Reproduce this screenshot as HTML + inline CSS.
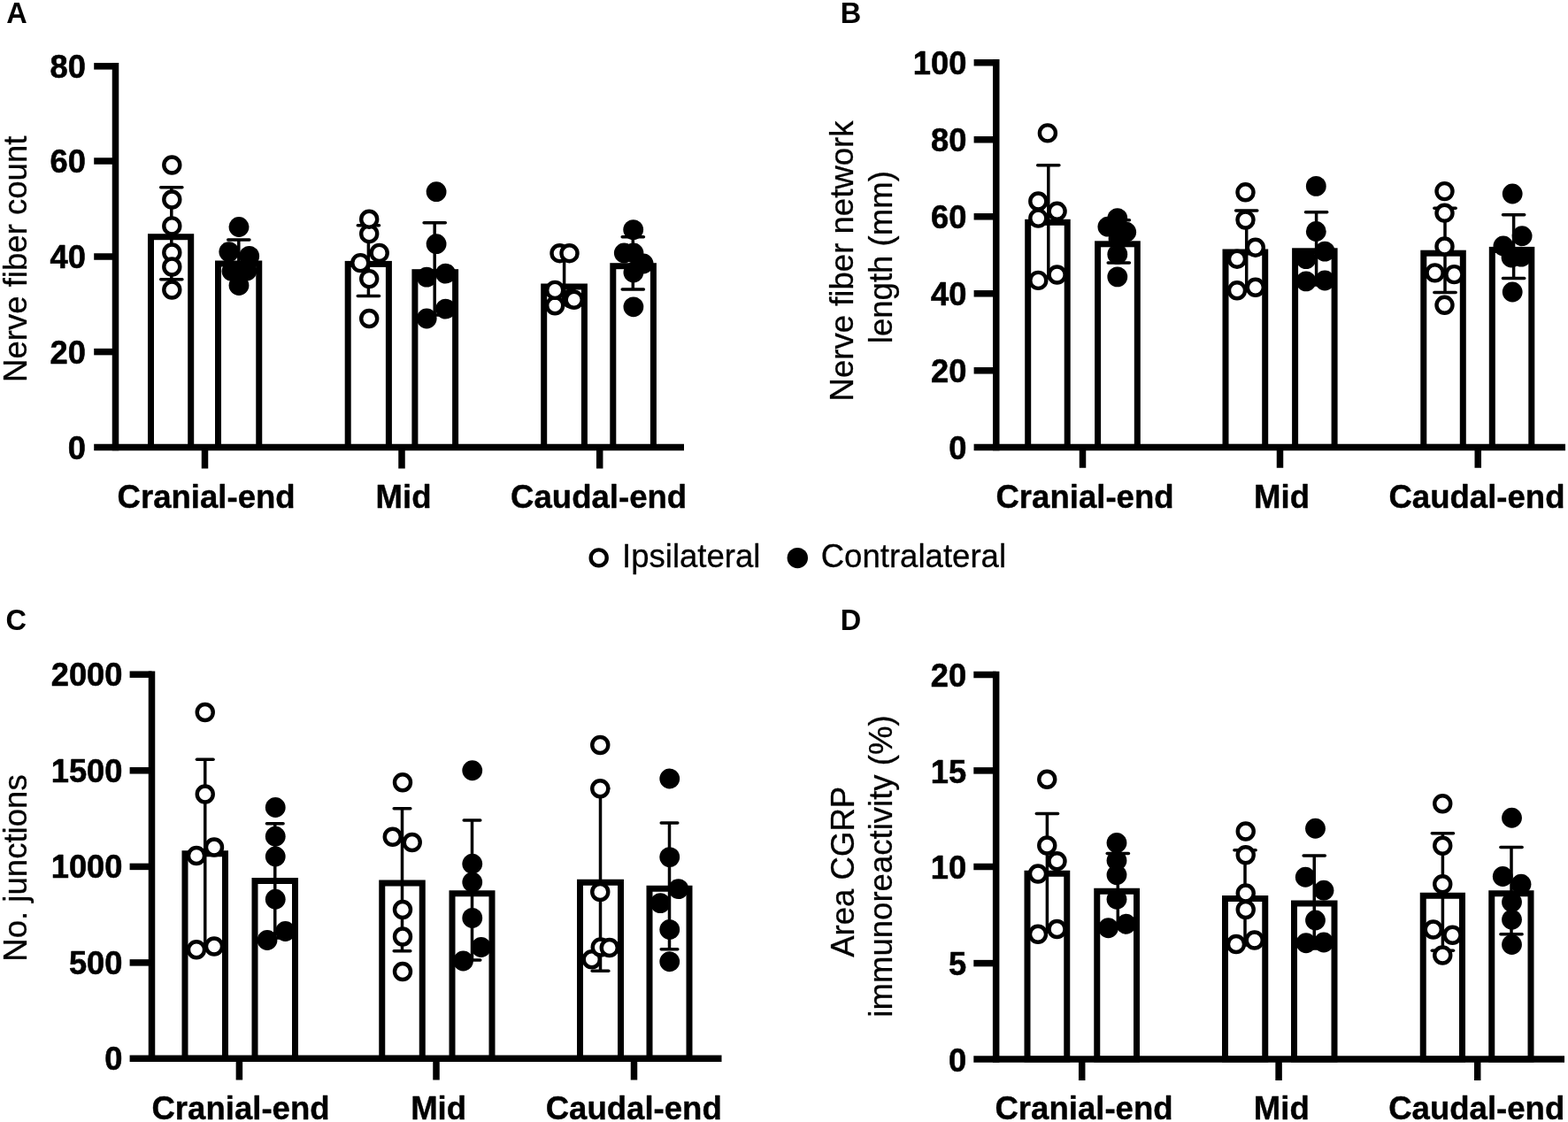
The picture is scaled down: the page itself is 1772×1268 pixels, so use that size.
<!DOCTYPE html>
<html lang="en">
<head>
<meta charset="utf-8">
<title>Figure</title>
<style>
html,body{margin:0;padding:0;background:#fff;}
body{width:1772px;height:1268px;overflow:hidden;}
svg{display:block;}
svg text{font-family:"Liberation Sans",Arial,Helvetica,sans-serif;fill:#000;}
</style>
</head>
<body>
<svg width="1772" height="1268" viewBox="0 0 1772 1268">
<rect x="0" y="0" width="1772" height="1268" fill="#fff"/>
<g>
<rect x="170.5" y="267.7" width="45.2" height="237.8" fill="#fff" stroke="#000" stroke-width="7"/>
<rect x="246.5" y="298" width="46.25" height="207.5" fill="#fff" stroke="#000" stroke-width="7"/>
<rect x="393.2" y="298.4" width="46.2" height="207.1" fill="#fff" stroke="#000" stroke-width="7"/>
<rect x="468.9" y="307.7" width="45.7" height="197.8" fill="#fff" stroke="#000" stroke-width="7"/>
<rect x="614.7" y="324" width="45.7" height="181.5" fill="#fff" stroke="#000" stroke-width="7"/>
<rect x="692.8" y="300.7" width="45.6" height="204.8" fill="#fff" stroke="#000" stroke-width="7"/>
<line x1="193.8" y1="211.7" x2="193.8" y2="315.8" stroke="#000" stroke-width="3.5" stroke-linecap="butt"/>
<line x1="181.7" y1="211.7" x2="205.9" y2="211.7" stroke="#000" stroke-width="3.5" stroke-linecap="round"/>
<line x1="181.7" y1="315.8" x2="205.9" y2="315.8" stroke="#000" stroke-width="3.5" stroke-linecap="round"/>
<line x1="269.8" y1="270.9" x2="269.8" y2="318" stroke="#000" stroke-width="3.5" stroke-linecap="butt"/>
<line x1="257.7" y1="270.9" x2="281.9" y2="270.9" stroke="#000" stroke-width="3.5" stroke-linecap="round"/>
<line x1="416.4" y1="254.7" x2="416.4" y2="334.6" stroke="#000" stroke-width="3.5" stroke-linecap="butt"/>
<line x1="404.3" y1="254.7" x2="428.5" y2="254.7" stroke="#000" stroke-width="3.5" stroke-linecap="round"/>
<line x1="404.3" y1="334.6" x2="428.5" y2="334.6" stroke="#000" stroke-width="3.5" stroke-linecap="round"/>
<line x1="491.2" y1="251.7" x2="491.2" y2="356" stroke="#000" stroke-width="3.5" stroke-linecap="butt"/>
<line x1="479.1" y1="251.7" x2="503.3" y2="251.7" stroke="#000" stroke-width="3.5" stroke-linecap="round"/>
<line x1="479.1" y1="356" x2="503.3" y2="356" stroke="#000" stroke-width="3.5" stroke-linecap="round"/>
<line x1="637.6" y1="287" x2="637.6" y2="343" stroke="#000" stroke-width="3.5" stroke-linecap="butt"/>
<line x1="625.5" y1="287" x2="649.7" y2="287" stroke="#000" stroke-width="3.5" stroke-linecap="round"/>
<line x1="625.5" y1="343" x2="649.7" y2="343" stroke="#000" stroke-width="3.5" stroke-linecap="round"/>
<line x1="715.3" y1="267.8" x2="715.3" y2="327" stroke="#000" stroke-width="3.5" stroke-linecap="butt"/>
<line x1="703.2" y1="267.8" x2="727.4" y2="267.8" stroke="#000" stroke-width="3.5" stroke-linecap="round"/>
<line x1="703.2" y1="327" x2="727.4" y2="327" stroke="#000" stroke-width="3.5" stroke-linecap="round"/>
<circle cx="194.3" cy="327.5" r="9" fill="#fff" stroke="#000" stroke-width="4.4"/>
<circle cx="194.3" cy="285.5" r="9" fill="#fff" stroke="#000" stroke-width="4.4"/>
<circle cx="194.3" cy="301.5" r="9" fill="#fff" stroke="#000" stroke-width="4.4"/>
<circle cx="194.3" cy="255.4" r="9" fill="#fff" stroke="#000" stroke-width="4.4"/>
<circle cx="194.3" cy="225.5" r="9" fill="#fff" stroke="#000" stroke-width="4.4"/>
<circle cx="194.3" cy="186.5" r="9" fill="#fff" stroke="#000" stroke-width="4.4"/>
<circle cx="270" cy="322.5" r="11.4" fill="#000"/>
<circle cx="262" cy="306.5" r="11.4" fill="#000"/>
<circle cx="279" cy="306" r="11.4" fill="#000"/>
<circle cx="281.7" cy="289.4" r="11.4" fill="#000"/>
<circle cx="258.8" cy="284.6" r="11.4" fill="#000"/>
<circle cx="270" cy="256.5" r="11.4" fill="#000"/>
<circle cx="417.2" cy="360" r="9" fill="#fff" stroke="#000" stroke-width="4.4"/>
<circle cx="417.2" cy="315.1" r="9" fill="#fff" stroke="#000" stroke-width="4.4"/>
<circle cx="428.7" cy="285.9" r="9" fill="#fff" stroke="#000" stroke-width="4.4"/>
<circle cx="407.3" cy="297.1" r="9" fill="#fff" stroke="#000" stroke-width="4.4"/>
<circle cx="417.2" cy="264.2" r="9" fill="#fff" stroke="#000" stroke-width="4.4"/>
<circle cx="417.2" cy="247.7" r="9" fill="#fff" stroke="#000" stroke-width="4.4"/>
<circle cx="482.2" cy="360" r="11.4" fill="#000"/>
<circle cx="503.6" cy="349.1" r="11.4" fill="#000"/>
<circle cx="482.2" cy="313.1" r="11.4" fill="#000"/>
<circle cx="503.6" cy="309.1" r="11.4" fill="#000"/>
<circle cx="493.1" cy="275.7" r="11.4" fill="#000"/>
<circle cx="493.1" cy="216.7" r="11.4" fill="#000"/>
<circle cx="627.2" cy="345.3" r="9" fill="#fff" stroke="#000" stroke-width="4.4"/>
<circle cx="645.5" cy="337.5" r="9" fill="#fff" stroke="#000" stroke-width="4.4"/>
<circle cx="648.7" cy="338.8" r="9" fill="#fff" stroke="#000" stroke-width="4.4"/>
<circle cx="627.2" cy="327.9" r="9" fill="#fff" stroke="#000" stroke-width="4.4"/>
<circle cx="632.5" cy="286.2" r="9" fill="#fff" stroke="#000" stroke-width="4.4"/>
<circle cx="643.5" cy="286.2" r="9" fill="#fff" stroke="#000" stroke-width="4.4"/>
<circle cx="715.9" cy="346.8" r="11.4" fill="#000"/>
<circle cx="715.9" cy="308" r="11.4" fill="#000"/>
<circle cx="727.1" cy="298" r="11.4" fill="#000"/>
<circle cx="705.3" cy="286" r="11.4" fill="#000"/>
<circle cx="716" cy="286" r="11.4" fill="#000"/>
<circle cx="715.7" cy="259.6" r="11.4" fill="#000"/>
<line x1="130.5" y1="71.1" x2="130.5" y2="509.25" stroke="#000" stroke-width="7.5" stroke-linecap="butt"/>
<line x1="106.2" y1="505.5" x2="773" y2="505.5" stroke="#000" stroke-width="7.5" stroke-linecap="butt"/>
<text transform="translate(96.9 518.8) scale(0.98 1)" text-anchor="end" font-size="37" font-weight="700" stroke="#000" stroke-width="0.6" stroke-linejoin="round">0</text>
<line x1="106.2" y1="397.6" x2="130.5" y2="397.6" stroke="#000" stroke-width="7.5" stroke-linecap="butt"/>
<text transform="translate(96.9 410.9) scale(0.98 1)" text-anchor="end" font-size="37" font-weight="700" stroke="#000" stroke-width="0.6" stroke-linejoin="round">20</text>
<line x1="106.2" y1="290" x2="130.5" y2="290" stroke="#000" stroke-width="7.5" stroke-linecap="butt"/>
<text transform="translate(96.9 303.3) scale(0.98 1)" text-anchor="end" font-size="37" font-weight="700" stroke="#000" stroke-width="0.6" stroke-linejoin="round">40</text>
<line x1="106.2" y1="182" x2="130.5" y2="182" stroke="#000" stroke-width="7.5" stroke-linecap="butt"/>
<text transform="translate(96.9 195.3) scale(0.98 1)" text-anchor="end" font-size="37" font-weight="700" stroke="#000" stroke-width="0.6" stroke-linejoin="round">60</text>
<line x1="106.2" y1="74.85" x2="130.5" y2="74.85" stroke="#000" stroke-width="7.5" stroke-linecap="butt"/>
<text transform="translate(96.9 88.15) scale(0.98 1)" text-anchor="end" font-size="37" font-weight="700" stroke="#000" stroke-width="0.6" stroke-linejoin="round">80</text>
<line x1="231.5" y1="505.5" x2="231.5" y2="529.5" stroke="#000" stroke-width="7.5" stroke-linecap="butt"/>
<line x1="454" y1="505.5" x2="454" y2="529.5" stroke="#000" stroke-width="7.5" stroke-linecap="butt"/>
<line x1="677.7" y1="505.5" x2="677.7" y2="529.5" stroke="#000" stroke-width="7.5" stroke-linecap="butt"/>
<text transform="translate(233.1 573.7) scale(0.994 1)" text-anchor="middle" font-size="36.8" font-weight="700" stroke="#000" stroke-width="0.4" stroke-linejoin="round">Cranial-end</text>
<text transform="translate(456 573.7) scale(0.994 1)" text-anchor="middle" font-size="36.8" font-weight="700" stroke="#000" stroke-width="0.4" stroke-linejoin="round">Mid</text>
<text transform="translate(676.6 573.7) scale(0.994 1)" text-anchor="middle" font-size="36.8" font-weight="700" stroke="#000" stroke-width="0.4" stroke-linejoin="round">Caudal-end</text>
<text transform="translate(30.1 292.8) rotate(-90) scale(0.994 1)" text-anchor="middle" font-size="36.8" font-weight="400" stroke="#000" stroke-width="0.3" stroke-linejoin="round">Nerve fiber count</text>
</g>
<g>
<rect x="1161.7" y="251.3" width="44.5" height="254.1" fill="#fff" stroke="#000" stroke-width="7"/>
<rect x="1240.6" y="275.8" width="44.7" height="229.6" fill="#fff" stroke="#000" stroke-width="7"/>
<rect x="1385" y="285" width="44.7" height="220.4" fill="#fff" stroke="#000" stroke-width="7"/>
<rect x="1463.6" y="283.8" width="44.5" height="221.6" fill="#fff" stroke="#000" stroke-width="7"/>
<rect x="1608.8" y="286.2" width="44.5" height="219.2" fill="#fff" stroke="#000" stroke-width="7"/>
<rect x="1686.3" y="282.4" width="44.5" height="223" fill="#fff" stroke="#000" stroke-width="7"/>
<line x1="1184.8" y1="186.8" x2="1184.8" y2="314" stroke="#000" stroke-width="3.5" stroke-linecap="butt"/>
<line x1="1172.7" y1="186.8" x2="1196.9" y2="186.8" stroke="#000" stroke-width="3.5" stroke-linecap="round"/>
<line x1="1172.7" y1="314" x2="1196.9" y2="314" stroke="#000" stroke-width="3.5" stroke-linecap="round"/>
<line x1="1264.3" y1="248.7" x2="1264.3" y2="296.9" stroke="#000" stroke-width="3.5" stroke-linecap="butt"/>
<line x1="1252.2" y1="248.7" x2="1276.4" y2="248.7" stroke="#000" stroke-width="3.5" stroke-linecap="round"/>
<line x1="1252.2" y1="296.9" x2="1276.4" y2="296.9" stroke="#000" stroke-width="3.5" stroke-linecap="round"/>
<line x1="1408.7" y1="238.1" x2="1408.7" y2="326" stroke="#000" stroke-width="3.5" stroke-linecap="butt"/>
<line x1="1396.6" y1="238.1" x2="1420.8" y2="238.1" stroke="#000" stroke-width="3.5" stroke-linecap="round"/>
<line x1="1396.6" y1="326" x2="1420.8" y2="326" stroke="#000" stroke-width="3.5" stroke-linecap="round"/>
<line x1="1487.6" y1="239.8" x2="1487.6" y2="322" stroke="#000" stroke-width="3.5" stroke-linecap="butt"/>
<line x1="1475.5" y1="239.8" x2="1499.7" y2="239.8" stroke="#000" stroke-width="3.5" stroke-linecap="round"/>
<line x1="1475.5" y1="322" x2="1499.7" y2="322" stroke="#000" stroke-width="3.5" stroke-linecap="round"/>
<line x1="1633" y1="235.2" x2="1633" y2="330.6" stroke="#000" stroke-width="3.5" stroke-linecap="butt"/>
<line x1="1620.9" y1="235.2" x2="1645.1" y2="235.2" stroke="#000" stroke-width="3.5" stroke-linecap="round"/>
<line x1="1620.9" y1="330.6" x2="1645.1" y2="330.6" stroke="#000" stroke-width="3.5" stroke-linecap="round"/>
<line x1="1710.6" y1="242.8" x2="1710.6" y2="314.4" stroke="#000" stroke-width="3.5" stroke-linecap="butt"/>
<line x1="1698.5" y1="242.8" x2="1722.7" y2="242.8" stroke="#000" stroke-width="3.5" stroke-linecap="round"/>
<line x1="1698.5" y1="314.4" x2="1722.7" y2="314.4" stroke="#000" stroke-width="3.5" stroke-linecap="round"/>
<circle cx="1173.3" cy="316.9" r="9" fill="#fff" stroke="#000" stroke-width="4.4"/>
<circle cx="1194.6" cy="310.5" r="9" fill="#fff" stroke="#000" stroke-width="4.4"/>
<circle cx="1173.3" cy="227.5" r="9" fill="#fff" stroke="#000" stroke-width="4.4"/>
<circle cx="1173.3" cy="246.6" r="9" fill="#fff" stroke="#000" stroke-width="4.4"/>
<circle cx="1194.6" cy="238.8" r="9" fill="#fff" stroke="#000" stroke-width="4.4"/>
<circle cx="1183.9" cy="150.4" r="9" fill="#fff" stroke="#000" stroke-width="4.4"/>
<circle cx="1262.8" cy="312.9" r="11.4" fill="#000"/>
<circle cx="1262.8" cy="287.4" r="11.4" fill="#000"/>
<circle cx="1264" cy="270" r="11.4" fill="#000"/>
<circle cx="1272.7" cy="262.2" r="11.4" fill="#000"/>
<circle cx="1251.9" cy="256.2" r="11.4" fill="#000"/>
<circle cx="1262.8" cy="246.6" r="11.4" fill="#000"/>
<circle cx="1398" cy="328.3" r="9" fill="#fff" stroke="#000" stroke-width="4.4"/>
<circle cx="1418.8" cy="324.8" r="9" fill="#fff" stroke="#000" stroke-width="4.4"/>
<circle cx="1398" cy="292.7" r="9" fill="#fff" stroke="#000" stroke-width="4.4"/>
<circle cx="1418.8" cy="279.7" r="9" fill="#fff" stroke="#000" stroke-width="4.4"/>
<circle cx="1407.5" cy="248.5" r="9" fill="#fff" stroke="#000" stroke-width="4.4"/>
<circle cx="1407.5" cy="217.3" r="9" fill="#fff" stroke="#000" stroke-width="4.4"/>
<circle cx="1497.2" cy="317" r="11.4" fill="#000"/>
<circle cx="1476" cy="317.9" r="11.4" fill="#000"/>
<circle cx="1476" cy="292.7" r="11.4" fill="#000"/>
<circle cx="1497.2" cy="284.1" r="11.4" fill="#000"/>
<circle cx="1487.3" cy="261.5" r="11.4" fill="#000"/>
<circle cx="1487.3" cy="210.4" r="11.4" fill="#000"/>
<circle cx="1632.5" cy="344.8" r="9" fill="#fff" stroke="#000" stroke-width="4.4"/>
<circle cx="1643.4" cy="310.1" r="9" fill="#fff" stroke="#000" stroke-width="4.4"/>
<circle cx="1621.6" cy="308.4" r="9" fill="#fff" stroke="#000" stroke-width="4.4"/>
<circle cx="1632.5" cy="278.5" r="9" fill="#fff" stroke="#000" stroke-width="4.4"/>
<circle cx="1632.5" cy="240.7" r="9" fill="#fff" stroke="#000" stroke-width="4.4"/>
<circle cx="1632.5" cy="216.1" r="9" fill="#fff" stroke="#000" stroke-width="4.4"/>
<circle cx="1709.2" cy="330" r="11.4" fill="#000"/>
<circle cx="1708" cy="291" r="11.4" fill="#000"/>
<circle cx="1719.2" cy="290.1" r="11.4" fill="#000"/>
<circle cx="1698.9" cy="278" r="11.4" fill="#000"/>
<circle cx="1720.1" cy="266.7" r="11.4" fill="#000"/>
<circle cx="1709.2" cy="219" r="11.4" fill="#000"/>
<line x1="1125.75" y1="67.05" x2="1125.75" y2="509.15" stroke="#000" stroke-width="7.5" stroke-linecap="butt"/>
<line x1="1100.6" y1="505.4" x2="1769" y2="505.4" stroke="#000" stroke-width="7.5" stroke-linecap="butt"/>
<text transform="translate(1092.3 519) scale(0.98 1)" text-anchor="end" font-size="37" font-weight="700" stroke="#000" stroke-width="0.6" stroke-linejoin="round">0</text>
<line x1="1100.6" y1="418.8" x2="1125.75" y2="418.8" stroke="#000" stroke-width="7.5" stroke-linecap="butt"/>
<text transform="translate(1092.3 432.4) scale(0.98 1)" text-anchor="end" font-size="37" font-weight="700" stroke="#000" stroke-width="0.6" stroke-linejoin="round">20</text>
<line x1="1100.6" y1="331.8" x2="1125.75" y2="331.8" stroke="#000" stroke-width="7.5" stroke-linecap="butt"/>
<text transform="translate(1092.3 345.4) scale(0.98 1)" text-anchor="end" font-size="37" font-weight="700" stroke="#000" stroke-width="0.6" stroke-linejoin="round">40</text>
<line x1="1100.6" y1="244.8" x2="1125.75" y2="244.8" stroke="#000" stroke-width="7.5" stroke-linecap="butt"/>
<text transform="translate(1092.3 258.4) scale(0.98 1)" text-anchor="end" font-size="37" font-weight="700" stroke="#000" stroke-width="0.6" stroke-linejoin="round">60</text>
<line x1="1100.6" y1="157.8" x2="1125.75" y2="157.8" stroke="#000" stroke-width="7.5" stroke-linecap="butt"/>
<text transform="translate(1092.3 171.4) scale(0.98 1)" text-anchor="end" font-size="37" font-weight="700" stroke="#000" stroke-width="0.6" stroke-linejoin="round">80</text>
<line x1="1100.6" y1="70.8" x2="1125.75" y2="70.8" stroke="#000" stroke-width="7.5" stroke-linecap="butt"/>
<text transform="translate(1092.3 84.4) scale(0.98 1)" text-anchor="end" font-size="37" font-weight="700" stroke="#000" stroke-width="0.6" stroke-linejoin="round">100</text>
<line x1="1223.5" y1="505.4" x2="1223.5" y2="528.75" stroke="#000" stroke-width="7.5" stroke-linecap="butt"/>
<line x1="1446.5" y1="505.4" x2="1446.5" y2="528.75" stroke="#000" stroke-width="7.5" stroke-linecap="butt"/>
<line x1="1670.25" y1="505.4" x2="1670.25" y2="528.75" stroke="#000" stroke-width="7.5" stroke-linecap="butt"/>
<text transform="translate(1226 573.7) scale(0.994 1)" text-anchor="middle" font-size="36.8" font-weight="700" stroke="#000" stroke-width="0.4" stroke-linejoin="round">Cranial-end</text>
<text transform="translate(1448.5 573.7) scale(0.994 1)" text-anchor="middle" font-size="36.8" font-weight="700" stroke="#000" stroke-width="0.4" stroke-linejoin="round">Mid</text>
<text transform="translate(1669 573.7) scale(0.994 1)" text-anchor="middle" font-size="36.8" font-weight="700" stroke="#000" stroke-width="0.4" stroke-linejoin="round">Caudal-end</text>
<text transform="translate(963.75 295) rotate(-90) scale(0.994 1)" text-anchor="middle" font-size="36.8" font-weight="400" stroke="#000" stroke-width="0.3" stroke-linejoin="round">Nerve fiber network</text>
<text transform="translate(1007.5 290.7) rotate(-90) scale(0.994 1)" text-anchor="middle" font-size="36.8" font-weight="400" stroke="#000" stroke-width="0.3" stroke-linejoin="round">length (mm)</text>
</g>
<g>
<rect x="209" y="964.75" width="45.5" height="231.55" fill="#fff" stroke="#000" stroke-width="7"/>
<rect x="288" y="995.5" width="45.5" height="200.8" fill="#fff" stroke="#000" stroke-width="7"/>
<rect x="431.75" y="998" width="45.5" height="198.3" fill="#fff" stroke="#000" stroke-width="7"/>
<rect x="511" y="1009.75" width="45" height="186.55" fill="#fff" stroke="#000" stroke-width="7"/>
<rect x="655.5" y="997.25" width="46" height="199.05" fill="#fff" stroke="#000" stroke-width="7"/>
<rect x="734" y="1004.25" width="45" height="192.05" fill="#fff" stroke="#000" stroke-width="7"/>
<line x1="231.75" y1="858.25" x2="231.75" y2="1071" stroke="#000" stroke-width="3.5" stroke-linecap="butt"/>
<line x1="222.45" y1="858.25" x2="241.05" y2="858.25" stroke="#000" stroke-width="3.5" stroke-linecap="round"/>
<line x1="222.45" y1="1071" x2="241.05" y2="1071" stroke="#000" stroke-width="3.5" stroke-linecap="round"/>
<line x1="310.75" y1="930.75" x2="310.75" y2="1060" stroke="#000" stroke-width="3.5" stroke-linecap="butt"/>
<line x1="301.45" y1="930.75" x2="320.05" y2="930.75" stroke="#000" stroke-width="3.5" stroke-linecap="round"/>
<line x1="301.45" y1="1060" x2="320.05" y2="1060" stroke="#000" stroke-width="3.5" stroke-linecap="round"/>
<line x1="454.5" y1="913.75" x2="454.5" y2="1074.75" stroke="#000" stroke-width="3.5" stroke-linecap="butt"/>
<line x1="445.2" y1="913.75" x2="463.8" y2="913.75" stroke="#000" stroke-width="3.5" stroke-linecap="round"/>
<line x1="445.2" y1="1074.75" x2="463.8" y2="1074.75" stroke="#000" stroke-width="3.5" stroke-linecap="round"/>
<line x1="533.5" y1="927" x2="533.5" y2="1085" stroke="#000" stroke-width="3.5" stroke-linecap="butt"/>
<line x1="524.2" y1="927" x2="542.8" y2="927" stroke="#000" stroke-width="3.5" stroke-linecap="round"/>
<line x1="524.2" y1="1085" x2="542.8" y2="1085" stroke="#000" stroke-width="3.5" stroke-linecap="round"/>
<line x1="678.5" y1="891" x2="678.5" y2="1097.25" stroke="#000" stroke-width="3.5" stroke-linecap="butt"/>
<line x1="669.2" y1="891" x2="687.8" y2="891" stroke="#000" stroke-width="3.5" stroke-linecap="round"/>
<line x1="669.2" y1="1097.25" x2="687.8" y2="1097.25" stroke="#000" stroke-width="3.5" stroke-linecap="round"/>
<line x1="756.5" y1="930" x2="756.5" y2="1072.75" stroke="#000" stroke-width="3.5" stroke-linecap="butt"/>
<line x1="747.2" y1="930" x2="765.8" y2="930" stroke="#000" stroke-width="3.5" stroke-linecap="round"/>
<line x1="747.2" y1="1072.75" x2="765.8" y2="1072.75" stroke="#000" stroke-width="3.5" stroke-linecap="round"/>
<circle cx="222" cy="1073.25" r="9" fill="#fff" stroke="#000" stroke-width="4.4"/>
<circle cx="242" cy="1069.5" r="9" fill="#fff" stroke="#000" stroke-width="4.4"/>
<circle cx="222" cy="967" r="9" fill="#fff" stroke="#000" stroke-width="4.4"/>
<circle cx="242" cy="957.5" r="9" fill="#fff" stroke="#000" stroke-width="4.4"/>
<circle cx="231.75" cy="897.5" r="9" fill="#fff" stroke="#000" stroke-width="4.4"/>
<circle cx="231.75" cy="805" r="9" fill="#fff" stroke="#000" stroke-width="4.4"/>
<circle cx="302" cy="1062.5" r="11.4" fill="#000"/>
<circle cx="322.5" cy="1052.5" r="11.4" fill="#000"/>
<circle cx="311.25" cy="1016.25" r="11.4" fill="#000"/>
<circle cx="311.25" cy="968" r="11.4" fill="#000"/>
<circle cx="311.25" cy="945.25" r="11.4" fill="#000"/>
<circle cx="311.25" cy="912.5" r="11.4" fill="#000"/>
<circle cx="455" cy="1098" r="9" fill="#fff" stroke="#000" stroke-width="4.4"/>
<circle cx="455" cy="1058.5" r="9" fill="#fff" stroke="#000" stroke-width="4.4"/>
<circle cx="455" cy="1028" r="9" fill="#fff" stroke="#000" stroke-width="4.4"/>
<circle cx="465.75" cy="952" r="9" fill="#fff" stroke="#000" stroke-width="4.4"/>
<circle cx="443.75" cy="945.75" r="9" fill="#fff" stroke="#000" stroke-width="4.4"/>
<circle cx="455" cy="884.25" r="9" fill="#fff" stroke="#000" stroke-width="4.4"/>
<circle cx="523.5" cy="1086" r="11.4" fill="#000"/>
<circle cx="543.75" cy="1070.5" r="11.4" fill="#000"/>
<circle cx="533.75" cy="1037.4" r="11.4" fill="#000"/>
<circle cx="533.75" cy="997" r="11.4" fill="#000"/>
<circle cx="533.75" cy="976.25" r="11.4" fill="#000"/>
<circle cx="533.75" cy="870.75" r="11.4" fill="#000"/>
<circle cx="668.75" cy="1084.25" r="9" fill="#fff" stroke="#000" stroke-width="4.4"/>
<circle cx="678.75" cy="1070.5" r="9" fill="#fff" stroke="#000" stroke-width="4.4"/>
<circle cx="688.75" cy="1071" r="9" fill="#fff" stroke="#000" stroke-width="4.4"/>
<circle cx="678.25" cy="1008" r="9" fill="#fff" stroke="#000" stroke-width="4.4"/>
<circle cx="678.25" cy="891.25" r="9" fill="#fff" stroke="#000" stroke-width="4.4"/>
<circle cx="678.25" cy="842" r="9" fill="#fff" stroke="#000" stroke-width="4.4"/>
<circle cx="756.75" cy="1086.75" r="11.4" fill="#000"/>
<circle cx="756.75" cy="1050.5" r="11.4" fill="#000"/>
<circle cx="746.25" cy="1020.6" r="11.4" fill="#000"/>
<circle cx="766.75" cy="1004.6" r="11.4" fill="#000"/>
<circle cx="756.75" cy="968.6" r="11.4" fill="#000"/>
<circle cx="756.75" cy="880" r="11.4" fill="#000"/>
<line x1="171.5" y1="758.45" x2="171.5" y2="1200.05" stroke="#000" stroke-width="7.5" stroke-linecap="butt"/>
<line x1="146.6" y1="1196.3" x2="815.5" y2="1196.3" stroke="#000" stroke-width="7.5" stroke-linecap="butt"/>
<text transform="translate(138.4 1209.3) scale(0.98 1)" text-anchor="end" font-size="37" font-weight="700" stroke="#000" stroke-width="0.6" stroke-linejoin="round">0</text>
<line x1="146.6" y1="1087.9" x2="171.5" y2="1087.9" stroke="#000" stroke-width="7.5" stroke-linecap="butt"/>
<text transform="translate(138.4 1100.9) scale(0.98 1)" text-anchor="end" font-size="37" font-weight="700" stroke="#000" stroke-width="0.6" stroke-linejoin="round">500</text>
<line x1="146.6" y1="979.4" x2="171.5" y2="979.4" stroke="#000" stroke-width="7.5" stroke-linecap="butt"/>
<text transform="translate(138.4 992.4) scale(0.98 1)" text-anchor="end" font-size="37" font-weight="700" stroke="#000" stroke-width="0.6" stroke-linejoin="round">1000</text>
<line x1="146.6" y1="870.8" x2="171.5" y2="870.8" stroke="#000" stroke-width="7.5" stroke-linecap="butt"/>
<text transform="translate(138.4 883.8) scale(0.98 1)" text-anchor="end" font-size="37" font-weight="700" stroke="#000" stroke-width="0.6" stroke-linejoin="round">1500</text>
<line x1="146.6" y1="762.2" x2="171.5" y2="762.2" stroke="#000" stroke-width="7.5" stroke-linecap="butt"/>
<text transform="translate(138.4 775.2) scale(0.98 1)" text-anchor="end" font-size="37" font-weight="700" stroke="#000" stroke-width="0.6" stroke-linejoin="round">2000</text>
<line x1="270.4" y1="1196.3" x2="270.4" y2="1220.5" stroke="#000" stroke-width="7.5" stroke-linecap="butt"/>
<line x1="493" y1="1196.3" x2="493" y2="1220.5" stroke="#000" stroke-width="7.5" stroke-linecap="butt"/>
<line x1="716.5" y1="1196.3" x2="716.5" y2="1220.5" stroke="#000" stroke-width="7.5" stroke-linecap="butt"/>
<text transform="translate(272 1264.6) scale(0.994 1)" text-anchor="middle" font-size="36.8" font-weight="700" stroke="#000" stroke-width="0.4" stroke-linejoin="round">Cranial-end</text>
<text transform="translate(495.6 1264.6) scale(0.994 1)" text-anchor="middle" font-size="36.8" font-weight="700" stroke="#000" stroke-width="0.4" stroke-linejoin="round">Mid</text>
<text transform="translate(716.25 1264.6) scale(0.994 1)" text-anchor="middle" font-size="36.8" font-weight="700" stroke="#000" stroke-width="0.4" stroke-linejoin="round">Caudal-end</text>
<text transform="translate(29.8 981) rotate(-90) scale(0.994 1)" text-anchor="middle" font-size="36.8" font-weight="400" stroke="#000" stroke-width="0.3" stroke-linejoin="round">No. junctions</text>
</g>
<g>
<rect x="1161" y="987.25" width="44.75" height="209.75" fill="#fff" stroke="#000" stroke-width="7"/>
<rect x="1239.75" y="1007.25" width="44.75" height="189.75" fill="#fff" stroke="#000" stroke-width="7"/>
<rect x="1384.5" y="1015.5" width="45.25" height="181.5" fill="#fff" stroke="#000" stroke-width="7"/>
<rect x="1462.5" y="1021" width="45.5" height="176" fill="#fff" stroke="#000" stroke-width="7"/>
<rect x="1608.25" y="1012.25" width="44.25" height="184.75" fill="#fff" stroke="#000" stroke-width="7"/>
<rect x="1685.75" y="1009.75" width="44.25" height="187.25" fill="#fff" stroke="#000" stroke-width="7"/>
<line x1="1183.4" y1="919.5" x2="1183.4" y2="1053" stroke="#000" stroke-width="3.5" stroke-linecap="butt"/>
<line x1="1171.3" y1="919.5" x2="1195.5" y2="919.5" stroke="#000" stroke-width="3.5" stroke-linecap="round"/>
<line x1="1171.3" y1="1053" x2="1195.5" y2="1053" stroke="#000" stroke-width="3.5" stroke-linecap="round"/>
<line x1="1263.3" y1="964.5" x2="1263.3" y2="1048" stroke="#000" stroke-width="3.5" stroke-linecap="butt"/>
<line x1="1251.2" y1="964.5" x2="1275.4" y2="964.5" stroke="#000" stroke-width="3.5" stroke-linecap="round"/>
<line x1="1251.2" y1="1048" x2="1275.4" y2="1048" stroke="#000" stroke-width="3.5" stroke-linecap="round"/>
<line x1="1407" y1="960.75" x2="1407" y2="1068" stroke="#000" stroke-width="3.5" stroke-linecap="butt"/>
<line x1="1394.9" y1="960.75" x2="1419.1" y2="960.75" stroke="#000" stroke-width="3.5" stroke-linecap="round"/>
<line x1="1394.9" y1="1068" x2="1419.1" y2="1068" stroke="#000" stroke-width="3.5" stroke-linecap="round"/>
<line x1="1485.25" y1="967" x2="1485.25" y2="1072" stroke="#000" stroke-width="3.5" stroke-linecap="butt"/>
<line x1="1473.15" y1="967" x2="1497.35" y2="967" stroke="#000" stroke-width="3.5" stroke-linecap="round"/>
<line x1="1473.15" y1="1072" x2="1497.35" y2="1072" stroke="#000" stroke-width="3.5" stroke-linecap="round"/>
<line x1="1630.4" y1="941.75" x2="1630.4" y2="1074.25" stroke="#000" stroke-width="3.5" stroke-linecap="butt"/>
<line x1="1618.3" y1="941.75" x2="1642.5" y2="941.75" stroke="#000" stroke-width="3.5" stroke-linecap="round"/>
<line x1="1618.3" y1="1074.25" x2="1642.5" y2="1074.25" stroke="#000" stroke-width="3.5" stroke-linecap="round"/>
<line x1="1708" y1="957.5" x2="1708" y2="1055.75" stroke="#000" stroke-width="3.5" stroke-linecap="butt"/>
<line x1="1695.9" y1="957.5" x2="1720.1" y2="957.5" stroke="#000" stroke-width="3.5" stroke-linecap="round"/>
<line x1="1695.9" y1="1055.75" x2="1720.1" y2="1055.75" stroke="#000" stroke-width="3.5" stroke-linecap="round"/>
<circle cx="1173" cy="1055.75" r="9" fill="#fff" stroke="#000" stroke-width="4.4"/>
<circle cx="1194.5" cy="1050" r="9" fill="#fff" stroke="#000" stroke-width="4.4"/>
<circle cx="1173" cy="987.5" r="9" fill="#fff" stroke="#000" stroke-width="4.4"/>
<circle cx="1194.5" cy="973.25" r="9" fill="#fff" stroke="#000" stroke-width="4.4"/>
<circle cx="1183.25" cy="955.5" r="9" fill="#fff" stroke="#000" stroke-width="4.4"/>
<circle cx="1183.25" cy="880.75" r="9" fill="#fff" stroke="#000" stroke-width="4.4"/>
<circle cx="1252.5" cy="1048.75" r="11.4" fill="#000"/>
<circle cx="1272.5" cy="1044.25" r="11.4" fill="#000"/>
<circle cx="1262" cy="1016.25" r="11.4" fill="#000"/>
<circle cx="1262" cy="988.75" r="11.4" fill="#000"/>
<circle cx="1262" cy="972.5" r="11.4" fill="#000"/>
<circle cx="1262" cy="952.5" r="11.4" fill="#000"/>
<circle cx="1397" cy="1067" r="9" fill="#fff" stroke="#000" stroke-width="4.4"/>
<circle cx="1417.75" cy="1062.5" r="9" fill="#fff" stroke="#000" stroke-width="4.4"/>
<circle cx="1407.75" cy="1028" r="9" fill="#fff" stroke="#000" stroke-width="4.4"/>
<circle cx="1407.75" cy="1009.5" r="9" fill="#fff" stroke="#000" stroke-width="4.4"/>
<circle cx="1407.75" cy="966.25" r="9" fill="#fff" stroke="#000" stroke-width="4.4"/>
<circle cx="1407.75" cy="939.5" r="9" fill="#fff" stroke="#000" stroke-width="4.4"/>
<circle cx="1476" cy="1065.75" r="11.4" fill="#000"/>
<circle cx="1496" cy="1065" r="11.4" fill="#000"/>
<circle cx="1486.5" cy="1040" r="11.4" fill="#000"/>
<circle cx="1496" cy="1006.25" r="11.4" fill="#000"/>
<circle cx="1475.25" cy="991.25" r="11.4" fill="#000"/>
<circle cx="1486.5" cy="936.25" r="11.4" fill="#000"/>
<circle cx="1630.25" cy="1079.5" r="9" fill="#fff" stroke="#000" stroke-width="4.4"/>
<circle cx="1641.5" cy="1056.75" r="9" fill="#fff" stroke="#000" stroke-width="4.4"/>
<circle cx="1619.75" cy="1050.5" r="9" fill="#fff" stroke="#000" stroke-width="4.4"/>
<circle cx="1630.25" cy="999.25" r="9" fill="#fff" stroke="#000" stroke-width="4.4"/>
<circle cx="1630.25" cy="955.75" r="9" fill="#fff" stroke="#000" stroke-width="4.4"/>
<circle cx="1630.25" cy="908.25" r="9" fill="#fff" stroke="#000" stroke-width="4.4"/>
<circle cx="1708.5" cy="1067.5" r="11.4" fill="#000"/>
<circle cx="1708.5" cy="1039.25" r="11.4" fill="#000"/>
<circle cx="1708.5" cy="1019.5" r="11.4" fill="#000"/>
<circle cx="1719" cy="999.25" r="11.4" fill="#000"/>
<circle cx="1698.25" cy="990.5" r="11.4" fill="#000"/>
<circle cx="1708.5" cy="924.25" r="11.4" fill="#000"/>
<line x1="1125.65" y1="758.75" x2="1125.65" y2="1200.75" stroke="#000" stroke-width="7.5" stroke-linecap="butt"/>
<line x1="1100.3" y1="1197" x2="1768" y2="1197" stroke="#000" stroke-width="7.5" stroke-linecap="butt"/>
<text transform="translate(1092.2 1210.8) scale(0.98 1)" text-anchor="end" font-size="37" font-weight="700" stroke="#000" stroke-width="0.6" stroke-linejoin="round">0</text>
<line x1="1100.3" y1="1088.6" x2="1125.65" y2="1088.6" stroke="#000" stroke-width="7.5" stroke-linecap="butt"/>
<text transform="translate(1092.2 1102.4) scale(0.98 1)" text-anchor="end" font-size="37" font-weight="700" stroke="#000" stroke-width="0.6" stroke-linejoin="round">5</text>
<line x1="1100.3" y1="979.5" x2="1125.65" y2="979.5" stroke="#000" stroke-width="7.5" stroke-linecap="butt"/>
<text transform="translate(1092.2 993.3) scale(0.98 1)" text-anchor="end" font-size="37" font-weight="700" stroke="#000" stroke-width="0.6" stroke-linejoin="round">10</text>
<line x1="1100.3" y1="870.9" x2="1125.65" y2="870.9" stroke="#000" stroke-width="7.5" stroke-linecap="butt"/>
<text transform="translate(1092.2 884.7) scale(0.98 1)" text-anchor="end" font-size="37" font-weight="700" stroke="#000" stroke-width="0.6" stroke-linejoin="round">15</text>
<line x1="1100.3" y1="762.5" x2="1125.65" y2="762.5" stroke="#000" stroke-width="7.5" stroke-linecap="butt"/>
<text transform="translate(1092.2 776.3) scale(0.98 1)" text-anchor="end" font-size="37" font-weight="700" stroke="#000" stroke-width="0.6" stroke-linejoin="round">20</text>
<line x1="1222.7" y1="1197" x2="1222.7" y2="1221" stroke="#000" stroke-width="7.5" stroke-linecap="butt"/>
<line x1="1445.1" y1="1197" x2="1445.1" y2="1221" stroke="#000" stroke-width="7.5" stroke-linecap="butt"/>
<line x1="1669.7" y1="1197" x2="1669.7" y2="1221" stroke="#000" stroke-width="7.5" stroke-linecap="butt"/>
<text transform="translate(1225 1264.6) scale(0.994 1)" text-anchor="middle" font-size="36.8" font-weight="700" stroke="#000" stroke-width="0.4" stroke-linejoin="round">Cranial-end</text>
<text transform="translate(1448.25 1264.6) scale(0.994 1)" text-anchor="middle" font-size="36.8" font-weight="700" stroke="#000" stroke-width="0.4" stroke-linejoin="round">Mid</text>
<text transform="translate(1668.75 1264.6) scale(0.994 1)" text-anchor="middle" font-size="36.8" font-weight="700" stroke="#000" stroke-width="0.4" stroke-linejoin="round">Caudal-end</text>
<text transform="translate(964.5 985.3) rotate(-90) scale(0.994 1)" text-anchor="middle" font-size="36.8" font-weight="400" stroke="#000" stroke-width="0.3" stroke-linejoin="round">Area CGRP</text>
<text transform="translate(1007.5 979) rotate(-90) scale(0.994 1)" text-anchor="middle" font-size="36.8" font-weight="400" stroke="#000" stroke-width="0.3" stroke-linejoin="round">immunoreactivity (%)</text>
</g>
<text transform="translate(7.3 26.3)" text-anchor="start" font-size="32.5" font-weight="700">A</text>
<text transform="translate(949.8 26.3)" text-anchor="start" font-size="32.5" font-weight="700">B</text>
<text transform="translate(6.5 712)" text-anchor="start" font-size="32.5" font-weight="700">C</text>
<text transform="translate(949.8 712)" text-anchor="start" font-size="32.5" font-weight="700">D</text>
<circle cx="676.7" cy="630.4" r="9" fill="#fff" stroke="#000" stroke-width="4.4"/>
<text transform="translate(703 641) scale(0.994 1)" text-anchor="start" font-size="36.8" font-weight="400" stroke="#000" stroke-width="0.3" stroke-linejoin="round">Ipsilateral</text>
<circle cx="901.3" cy="630.6" r="11.7" fill="#000"/>
<text transform="translate(927.7 641) scale(0.994 1)" text-anchor="start" font-size="36.8" font-weight="400" stroke="#000" stroke-width="0.3" stroke-linejoin="round">Contralateral</text>
</svg>
</body>
</html>
